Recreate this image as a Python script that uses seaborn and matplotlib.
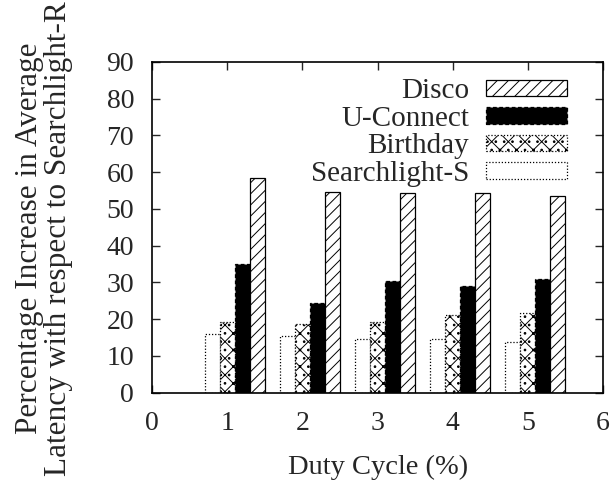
import seaborn as sns
import pandas as pd
import matplotlib
matplotlib.use("Agg")
from matplotlib import pyplot as plt
from matplotlib.patches import Patch

duty = [1, 2, 3, 4, 5]
protocols = ["Searchlight-S", "Birthday", "U-Connect", "Disco"]
searchlight_s = [16.0, 15.4, 14.5, 14.5, 13.8]
birthday = [19.1, 18.7, 19.1, 21.1, 21.8]
u_connect = [34.9, 24.5, 30.4, 29.0, 30.8]
disco = [58.3, 54.6, 54.4, 54.4, 53.5]

rows = []
for name, vals in zip(protocols, [searchlight_s, birthday, u_connect, disco]):
	for d, v in zip(duty, vals):
		rows.append({"duty": d, "protocol": name, "value": v})
df = pd.DataFrame(rows)

sns.set_style("ticks")
plt.rcParams['font.family'] = ['Liberation Serif', 'DejaVu Serif']
plt.rcParams['hatch.linewidth'] = 0.7

fig = plt.figure(figsize=(6.16, 4.83), dpi=100)
ax = fig.add_axes([0.247, 0.187, 0.732, 0.685])

sns.barplot(data=df, x="duty", y="value", hue="protocol", hue_order=protocols,
	native_scale=True, width=0.8, ax=ax, legend=False, errorbar=None)

styles = {
	"Searchlight-S": dict(facecolor="white", hatch=None, linestyle=(0, (1, 1.5))),
	"Birthday": dict(facecolor="white", hatch="xx..", linestyle=(0, (1, 1.5))),
	"U-Connect": dict(facecolor="black", hatch=None, linestyle=(0, (3, 2))),
	"Disco": dict(facecolor="white", hatch="///", linestyle="-"),
}
for cont, name in zip(ax.containers, protocols):
	st = styles[name]
	for p in cont:
		p.set_x(p.get_x() + 0.1)
		p.set_facecolor(st["facecolor"])
		p.set_edgecolor("black")
		p.set_hatch(st["hatch"])
		p.set_linestyle(st["linestyle"])
		p.set_linewidth(0.9)

ax.set_xlim(0, 6)
ax.set_ylim(0, 90)
ax.set_xticks(range(0, 7))
ax.set_yticks(range(0, 91, 10))
ax.tick_params(direction="in", length=6, width=1, top=True, right=True, labelsize=20)
ax.tick_params(axis="x", pad=13)
ax.tick_params(axis="y", pad=13)
for s in ax.spines.values():
	s.set_visible(True)
	s.set_linewidth(1.2)
	s.set_color("black")
ax.set_xlabel("Duty Cycle (%)", fontsize=20.5, labelpad=14)
ax.set_ylabel("Percentage Increase in Average\nLatency with respect to Searchlight-R", fontsize=22.5,
	linespacing=0.98)
ax.yaxis.set_label_coords(-0.176, 0.467)

handles = []
for name in reversed(protocols):
	st = styles[name]
	handles.append(Patch(facecolor=st["facecolor"], edgecolor="black", hatch=st["hatch"],
		linestyle=st["linestyle"], linewidth=0.9, label=name))
ax.legend(handles=handles, loc="upper right", bbox_to_anchor=(0.945, 0.985), frameon=False,
	markerfirst=False, fontsize=21, handlelength=2.75, handleheight=0.5, labelspacing=0.05,
	handletextpad=0.6, borderaxespad=0)

plt.savefig("out.png", dpi=100)
